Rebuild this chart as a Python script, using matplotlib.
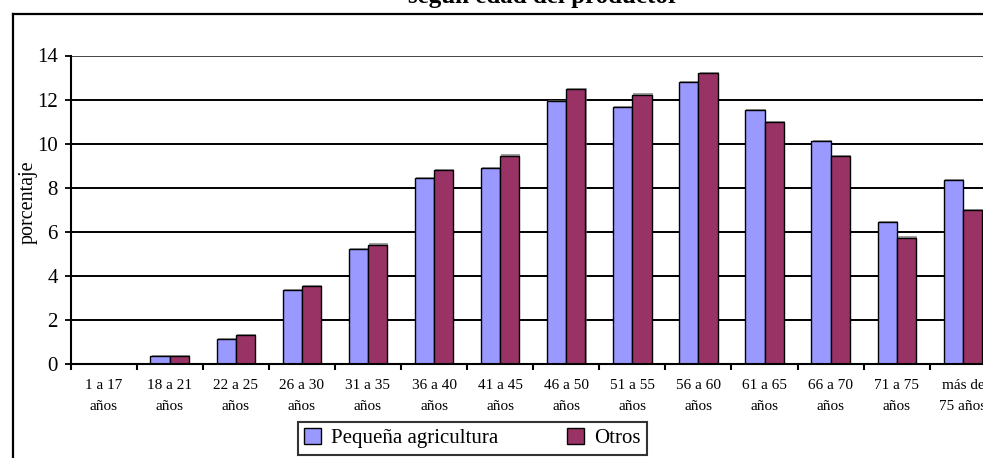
import matplotlib
matplotlib.use("Agg")
import matplotlib.pyplot as plt
import matplotlib.patheffects as pe
from matplotlib.lines import Line2D
import numpy as np

plt.rcParams["font.family"] = ["Liberation Serif", "DejaVu Serif"]

# Age groups of the producer and share (%) in each group
categories = ["1 a 17\naños", "18 a 21\naños", "22 a 25\naños", "26 a 30\naños",
              "31 a 35\naños", "36 a 40\naños", "41 a 45\naños", "46 a 50\naños",
              "51 a 55\naños", "56 a 60\naños", "61 a 65\naños", "66 a 70\naños",
              "71 a 75\naños", "más de\n75 años"]
pequena = [0.0, 0.35, 1.15, 3.35, 5.2, 8.44, 8.9, 11.92, 11.68, 12.81, 11.51, 10.1, 6.45, 8.35]
otros = [0.0, 0.35, 1.3, 3.52, 5.42, 8.82, 9.46, 12.47, 12.23, 13.19, 10.98, 9.44, 5.74, 7.0]
yticks = [0, 2, 4, 6, 8, 10, 12, 14]

W, H = 983, 458
fig = plt.figure(figsize=(W / 100, H / 100), dpi=100)
fig.patch.set_facecolor("white")

# plot area in pixel geometry
left_px, right_px, y0_px, y14_px = 70.5, 70.5 + 14 * 66.1, 364.0, 55.5
ax = fig.add_axes([left_px / W, 1 - y0_px / H, (right_px - left_px) / W, (y0_px - y14_px) / H])

x = np.arange(len(categories))
bw = 0.29
shadow = [pe.SimplePatchShadow(offset=(0.8, 0.8), shadow_rgbFace="#777777", alpha=0.7), pe.Normal()]
b1 = ax.bar(x - bw / 2, pequena, bw, color="#9999FF", edgecolor="black", linewidth=1.0,
            zorder=3, label="Pequeña agricultura")
b2 = ax.bar(x + bw / 2, otros, bw, color="#993366", edgecolor="black", linewidth=1.0,
            zorder=3, label="Otros")
for p in list(b1) + list(b2):
    if p.get_height() > 0:
        p.set_path_effects(shadow)

ax.set_xlim(-0.5, len(categories) - 0.5)
ax.set_ylim(0, 14)

# horizontal gridlines
for v in yticks[1:-1]:
    ax.axhline(v, color="black", linewidth=1.4, zorder=1)
ax.axhline(14, color="#444444", linewidth=1.4, zorder=1)

for s in ["top", "right"]:
    ax.spines[s].set_visible(False)
for s in ["left", "bottom"]:
    ax.spines[s].set_linewidth(1.5)
    ax.spines[s].set_zorder(4)

ax.set_yticks(yticks)
ax.set_yticklabels([str(v) for v in yticks], fontsize=15)
ax.tick_params(axis="y", direction="out", length=4, width=1.3, pad=5)

# category boundary ticks, labels at category centres
ax.set_xticks(np.arange(-0.5, len(categories), 1.0))
ax.set_xticklabels([])
ax.tick_params(axis="x", which="major", direction="out", length=4, width=1.5)
ax.set_xticks(x, minor=True)
ax.set_xticklabels(categories, minor=True, fontsize=11, linespacing=1.8)
ax.tick_params(axis="x", which="minor", length=0, pad=11)

fig.text(28 / W, 1 - 202.5 / H, "porcentaje", rotation=90, ha="center", va="center", fontsize=14.5)

fig.text(543.5 / W, 1 - 3.5 / H, "según edad del productor", ha="center", va="baseline",
         fontsize=18, fontweight="bold")

# chart-area border
fig.add_artist(Line2D([13 / W, 13 / W], [0, 1 - 13.5 / H], transform=fig.transFigure,
                      color="black", linewidth=1.6))
fig.add_artist(Line2D([13 / W, 1.0], [1 - 13.5 / H, 1 - 13.5 / H], transform=fig.transFigure,
                      color="black", linewidth=1.6))

leg = fig.legend(handles=[b1, b2], loc="upper left", bbox_to_anchor=(298 / W, 1 - 422 / H),
                 ncol=2, fontsize=15, frameon=True, fancybox=False, shadow=False,
                 handlelength=0.8, handleheight=0.8, handletextpad=0.5,
                 columnspacing=3.3, borderpad=0.3, borderaxespad=0)
leg.get_frame().set_edgecolor("black")
leg.get_frame().set_linewidth(1.5)

fig.savefig("out.png", dpi=100, facecolor="white")
